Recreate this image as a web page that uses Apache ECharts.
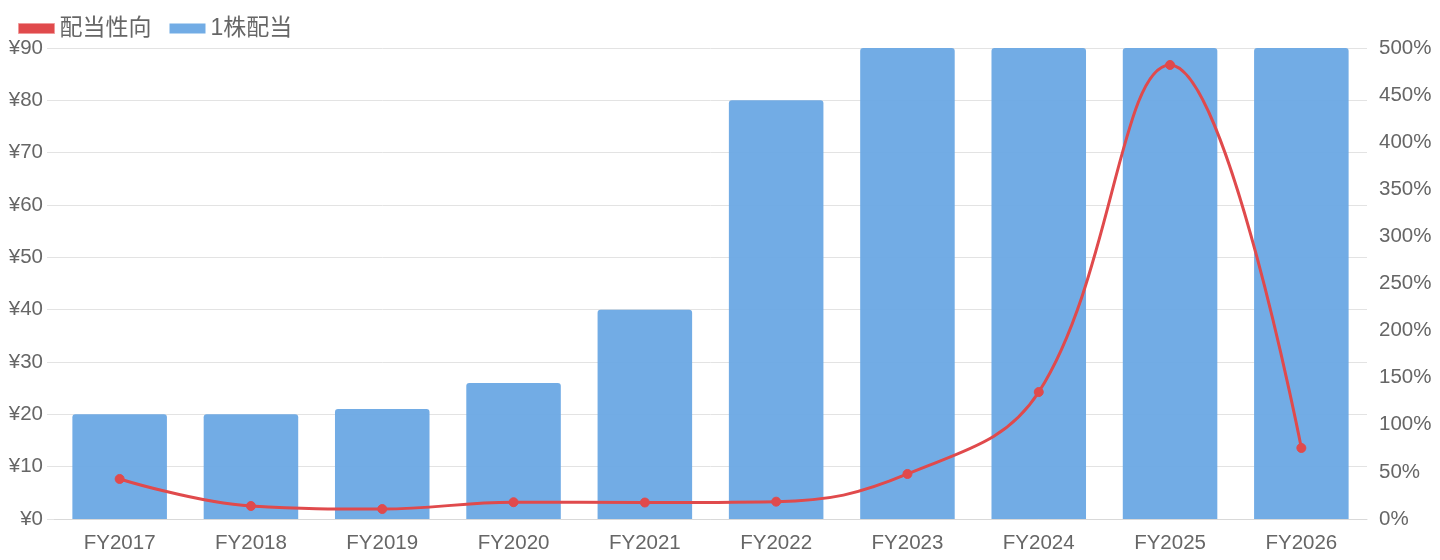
<!DOCTYPE html>
<html>
<head>
<meta charset="utf-8">
<script src="https://cdn.jsdelivr.net/npm/echarts@6/dist/echarts.min.js"></script>
<style>
  html, body { margin: 0; padding: 0; background: #fff; }
  #main { width: 1440px; height: 560px; }
</style>
</head>
<body>
<div id="main"></div>
<script>
// 年度
var years = ['FY2017', 'FY2018', 'FY2019', 'FY2020', 'FY2021', 'FY2022', 'FY2023', 'FY2024', 'FY2025', 'FY2026'];
// 1株配当 (円)
var dividend = [20, 20, 21, 26, 40, 80, 90, 90, 90, 90];
// 配当性向 (%)
var payoutRatio = [42.5, 13.8, 10.6, 17.8, 17.5, 18.4, 47.8, 134.8, 482, 75.4];

var font = '"Helvetica Neue", "Liberation Sans", "Noto Sans CJK JP", sans-serif';
var myChart = echarts.init(document.getElementById('main'));

var option = {
    textStyle: { fontFamily: font },
    animation: false,
    legend: {
        left: 13,
        top: 12,
        itemWidth: 36,
        itemHeight: 10,
        itemGap: 18,
        textStyle: { fontSize: 23, color: '#666', fontFamily: font },
        data: [
            { name: '配当性向', icon: 'rect', itemStyle: { color: '#e04a4c', borderColor: '#f09a9a', borderWidth: 1 } },
            { name: '1株配当', icon: 'rect' }
        ]
    },
    grid: {
        left: 54,
        right: 73,
        top: 48,
        bottom: 41
    },
    xAxis: {
        type: 'category',
        data: years,
        axisLine: { lineStyle: { color: '#d9d9d9' } },
        axisTick: { show: false },
        axisLabel: { fontSize: 20.5, color: '#666', margin: 14 }
    },
    yAxis: [
        {
            type: 'value',
            min: 0,
            max: 90,
            interval: 10,
            axisLabel: { formatter: '¥{value}', fontSize: 20.5, color: '#666', margin: 11 },
            splitLine: { lineStyle: { color: '#e3e3e3' } },
            axisLine: { show: false },
            axisTick: { show: true, length: 7, lineStyle: { color: '#e3e3e3' } }
        },
        {
            type: 'value',
            min: 0,
            max: 500,
            interval: 50,
            position: 'right',
            axisLabel: { formatter: '{value}%', fontSize: 20.5, color: '#666', margin: 12 },
            splitLine: { show: false },
            axisLine: { show: false },
            axisTick: { show: false }
        }
    ],
    series: [
        {
            name: '配当性向',
            type: 'line',
            yAxisIndex: 1,
            smooth: 0.4,
            data: payoutRatio,
            symbol: 'circle',
            symbolSize: 9,
            z: 3,
            lineStyle: { color: '#e04a4c', width: 3 },
            itemStyle: { color: '#e04a4c', borderColor: '#e04a4c', borderWidth: 1 }
        },
        {
            name: '1株配当',
            type: 'bar',
            data: dividend,
            barWidth: '72%',
            z: 2,
            itemStyle: { color: 'rgba(106,168,228,0.95)', borderRadius: [3, 3, 0, 0] }
        }
    ]
};

myChart.setOption(option);
</script>
</body>
</html>
